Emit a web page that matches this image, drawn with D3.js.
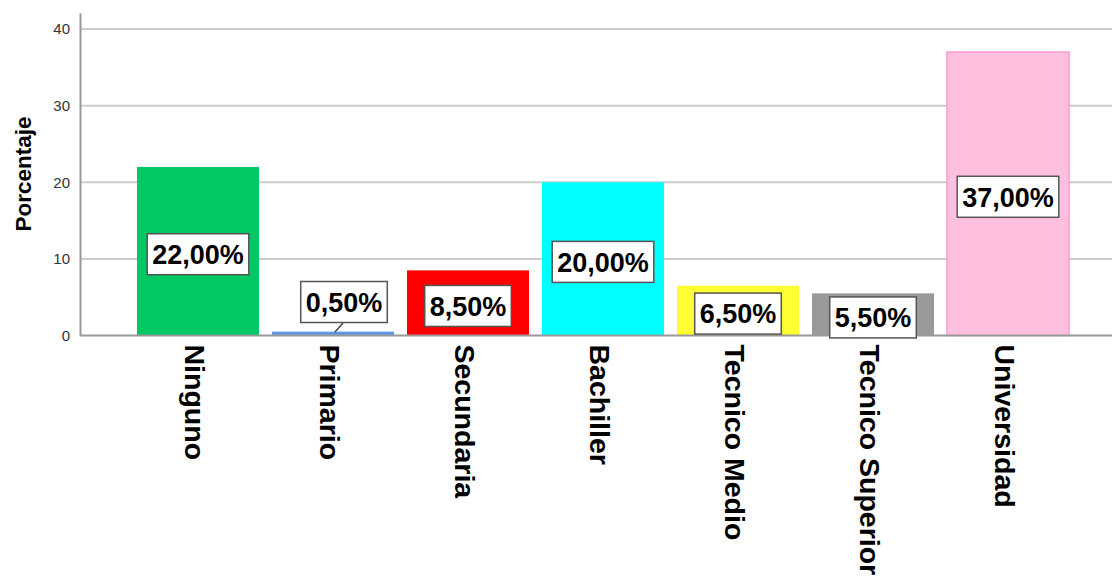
<!DOCTYPE html>
<html>
<head>
<meta charset="utf-8">
<script src="https://cdn.jsdelivr.net/npm/d3@7"></script>
<style>
  body { margin: 0; background: #fff; }
  text { font-family: "Liberation Sans", Arial, sans-serif; }
</style>
</head>
<body>
<div id="container"></div>
<script>
var width = 1112,
    height = 580;

var categories = ["Ninguno", "Primario", "Secundaria", "Bachiller", "Tecnico Medio", "Tecnico Superior", "Universidad"];
var values = [22.0, 0.5, 8.5, 20.0, 6.5, 5.5, 37.0];
var labels = ["22,00%", "0,50%", "8,50%", "20,00%", "6,50%", "5,50%", "37,00%"];
var colors = ["#00c864", "#5a96e6", "#ff0000", "#00ffff", "#ffff33", "#999999", "#ffc0e0"];
var yTicks = [0, 10, 20, 30, 40];

var svg = d3.select("#container")
    .append("svg")
    .attr("width", width)
    .attr("height", height);

var scale_x = d3.scaleBand()
    .domain(categories)
    .range([130.5, 1075.5])
    .paddingInner(0.096)
    .paddingOuter(0.048);

var scale_y = d3.scaleLinear()
    .domain([0, 42.1])
    .range([335.5, 13]);

// gridlines
svg.append("g")
    .selectAll("line")
    .data(yTicks.slice(1))
    .enter().append("line")
    .attr("x1", 80).attr("x2", width)
    .attr("y1", function(d) { return scale_y(d); })
    .attr("y2", function(d) { return scale_y(d); })
    .attr("stroke", "#cccccc")
    .attr("stroke-width", 2);

// bars
svg.append("g")
    .selectAll("rect")
    .data(values)
    .enter().append("rect")
    .attr("x", function(d, i) { return scale_x(categories[i]); })
    .attr("y", function(d) { return scale_y(d); })
    .attr("width", scale_x.bandwidth())
    .attr("height", function(d) { return scale_y(0) - scale_y(d); })
    .attr("fill", function(d, i) { return colors[i]; })
    .attr("stroke", function(d, i) { return i == 6 ? "#ff99cc" : "none"; })
    .attr("stroke-width", 1.5);

// y axis
var y_axis = d3.axisLeft(scale_y).tickValues(yTicks).tickSize(0).tickPadding(10);
var ya = svg.append("g")
    .attr("transform", "translate(80,0)")
    .call(y_axis);
ya.select(".domain").attr("stroke", "#999999").attr("stroke-width", 2);
ya.selectAll("text").attr("font-size", 15).attr("fill", "#333");

// x baseline + labels
var x_axis = d3.axisBottom(scale_x).tickSize(0).tickPadding(0);
var xa = svg.append("g")
    .attr("transform", "translate(0," + scale_y(0) + ")")
    .call(x_axis);
xa.select(".domain").attr("d", "M80,0H" + width).attr("stroke", "#999999").attr("stroke-width", 2);
xa.selectAll("text")
    .attr("font-size", 28.5)
    .attr("font-weight", "bold")
    .attr("fill", "#000")
    .attr("text-anchor", "start")
    .attr("dy", "0.45em")
    .attr("transform", "translate(0,9) rotate(90)");

// y title
svg.append("text")
    .text("Porcentaje")
    .attr("transform", "translate(31,174) rotate(-90)")
    .attr("text-anchor", "middle")
    .attr("font-size", 22.5)
    .attr("font-weight", "bold");

// value labels
var lbl = svg.append("g").selectAll("g")
    .data(values)
    .enter().append("g")
    .attr("transform", function(d, i) {
        var cx = scale_x(categories[i]) + scale_x.bandwidth() / 2;
        var cy = (scale_y(d) + scale_y(0)) / 2 + 3;
        if (d < 1) { cx += 11; cy = 302; }
        return "translate(" + cx + "," + cy + ")";
    });

lbl.filter(function(d) { return d < 1; })
    .append("line")
    .attr("x1", -9).attr("y1", 30)
    .attr("x2", -1).attr("y2", 21)
    .attr("stroke", "#444").attr("stroke-width", 1.5);

lbl.append("text")
    .text(function(d, i) { return labels[i]; })
    .attr("text-anchor", "middle")
    .attr("dy", "0.36em")
    .attr("font-size", 27)
    .attr("font-weight", "bold")
    .attr("fill", "#000");

lbl.each(function() {
    var g = d3.select(this);
    var b = g.select("text").node().getBBox();
    g.insert("rect", "text")
        .attr("x", b.x - 5).attr("y", -20.5)
        .attr("width", b.width + 10).attr("height", 41)
        .attr("fill", "#fff")
        .attr("stroke", "#555").attr("stroke-width", 1.5);
});
</script>
</body>
</html>
